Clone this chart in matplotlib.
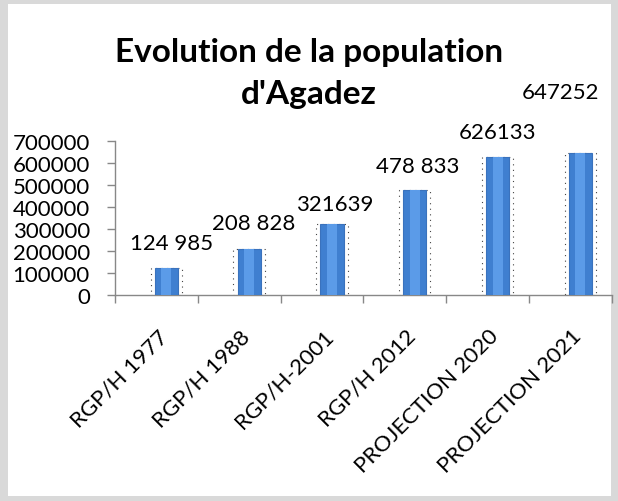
import matplotlib.pyplot as plt
from matplotlib.patches import Rectangle
from matplotlib.transforms import ScaledTranslation

# données
categories = ['RGP/H 1977', 'RGP/H 1988', 'RGP/H-2001', 'RGP/H 2012',
              'PROJECTION 2020', 'PROJECTION 2021']
population = [124985, 208828, 321639, 478833, 626133, 647252]
etiquettes = ['124 985', '208 828', '321639', '478 833', '626133', '647252']
y_ticks = [0, 100000, 200000, 300000, 400000, 500000, 600000, 700000]

# décalage des étiquettes (points) par rapport au sommet des barres
label_dx = [4, 3, 2, 2, 0, -14]
label_dy = [18, 19, 15, 17, 18, 44]

plt.rcParams['font.family'] = ['Lato', 'DejaVu Sans']

fig = plt.figure(figsize=(6.18, 5.02), dpi=100)
fig.patch.set_facecolor('#d9d9d9')
fig.patches.append(Rectangle((8 / 618, 5 / 502), 603 / 618, 492 / 502,
                             transform=fig.transFigure, facecolor='white',
                             edgecolor='none', zorder=-5))

ax = fig.add_axes([0.186, 0.410, 0.804, 0.307])
ax.set_facecolor('none')

x = [i + 0.12 for i in range(len(categories))]
ax.bar(x, population, width=0.28, color='#3f7fd0', edgecolor='#3a72bd',
       linewidth=0.8, zorder=3)
ax.bar(x, population, width=0.12, color='#5b9be8', linewidth=0, zorder=4)
ax.bar(x, population, width=0.38, fill=False, edgecolor='#444444',
       linestyle=(0, (1, 4)), linewidth=0.8, zorder=2)

for xi, v, t, dx, dy in zip(x, population, etiquettes, label_dx, label_dy):
    ax.annotate(t, (xi, v), xytext=(dx, dy), textcoords='offset points',
                ha='center', va='center', fontsize=16, clip_on=False,
                annotation_clip=False)

ax.set_xlim(-0.5, 5.5)
ax.set_ylim(0, 700000)
ax.set_yticks(y_ticks)
ax.set_yticklabels([str(v) for v in y_ticks], fontsize=16)
ax.tick_params(axis='y', length=6, width=1, color='#888888', pad=12)

ax.set_xticks(range(len(categories)))
ax.set_xticklabels(categories, rotation=45, ha='right', va='center',
                   rotation_mode='anchor', fontsize=16)
ax.tick_params(axis='x', length=0, pad=27)
ax.set_xticks([i - 0.5 for i in range(len(categories) + 1)], minor=True)
ax.tick_params(axis='x', which='minor', length=6, width=1, color='#888888')
shift = ScaledTranslation(0.08, 0, fig.dpi_scale_trans)
for lab in ax.get_xticklabels():
    lab.set_transform(lab.get_transform() + shift)

for s in ['top', 'right']:
    ax.spines[s].set_visible(False)
for s in ['left', 'bottom']:
    ax.spines[s].set_color('#888888')
    ax.spines[s].set_linewidth(1)

fig.text(0.5, (502 - 62) / 502, 'Evolution de la population', ha='center',
         va='baseline', fontsize=24, fontweight='bold')
fig.text(0.5, (502 - 104) / 502, "d'Agadez", ha='center',
         va='baseline', fontsize=24, fontweight='bold')

fig.savefig('out.png', dpi=100, facecolor=fig.get_facecolor())
